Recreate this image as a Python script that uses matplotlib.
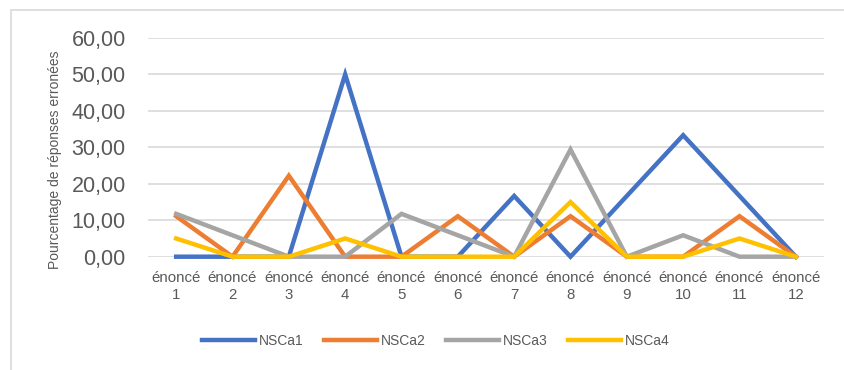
import matplotlib
matplotlib.use("Agg")
import matplotlib.pyplot as plt
from matplotlib.patches import Rectangle

plt.rcParams['font.family'] = ['Liberation Sans', 'DejaVu Sans']

categories = [f"énoncé\n{i}" for i in range(1, 13)]
nsca1 = [0, 0, 0, 50.00, 0, 0, 16.67, 0, 16.67, 33.33, 16.67, 0]
nsca2 = [11.11, 0, 22.22, 0, 0, 11.11, 0, 11.11, 0, 0, 11.11, 0]
nsca3 = [11.76, 5.88, 0, 0, 11.76, 5.88, 0, 29.41, 0, 5.88, 0, 0]
nsca4 = [5.00, 0, 0, 5.00, 0, 0, 0, 15.00, 0, 0, 5.00, 0]
series_names = ["NSCa1", "NSCa2", "NSCa3", "NSCa4"]
yticks = [0, 10, 20, 30, 40, 50, 60]

colors = ["#4472C4", "#ED7D31", "#A5A5A5", "#FFC000"]
text_color = "#595959"
W, H = 844, 370

fig = plt.figure(figsize=(W / 100, H / 100), dpi=100)

# chart area frame (top and left edges visible)
fig.patches.append(Rectangle((11 / W, -0.05), 1.0, 1 - 10 / H + 0.05,
                             transform=fig.transFigure, fill=False,
                             edgecolor="#D9D9D9", linewidth=1.2))

ax = fig.add_axes([148 / W, 1 - 256.7 / H, (824 - 148) / W, (256.7 - 38) / H])

x = list(range(1, 13))
for vals, name, c in zip([nsca1, nsca2, nsca3, nsca4], series_names, colors):
    ax.plot(x, vals, color=c, linewidth=3.2, label=name, clip_on=False,
            solid_joinstyle="miter", zorder=3)

ax.set_xlim(0.5, 12.5)
ax.set_ylim(0, 60)
ax.set_yticks(yticks)
ax.set_yticklabels([f"{v:.2f}".replace(".", ",") for v in yticks])
ax.set_xticks(x)
ax.set_xticklabels(categories, linespacing=1.3)
ax.grid(axis="y", color="#D9D9D9", linewidth=1.2, zorder=0)
ax.set_axisbelow(True)
for s in ax.spines.values():
    s.set_visible(False)
ax.tick_params(axis="y", length=0, pad=16, labelsize=15.5, labelcolor=text_color)
ax.tick_params(axis="x", length=0, pad=10, labelsize=10.8, labelcolor=text_color)

fig.text(55 / W, 1 - 160 / H, "Pourcentage de réponses erronées", rotation=90,
         ha="center", va="center", fontsize=10, color=text_color)

handles, labels = ax.get_legend_handles_labels()
fig.legend(handles, labels, loc="center", bbox_to_anchor=(436 / W, 1 - 341 / H),
           ncol=4, frameon=False, fontsize=10, labelcolor=text_color,
           handlelength=3.8, handletextpad=0.3, columnspacing=1.45)

fig.savefig("out.png", dpi=100, facecolor="white")
